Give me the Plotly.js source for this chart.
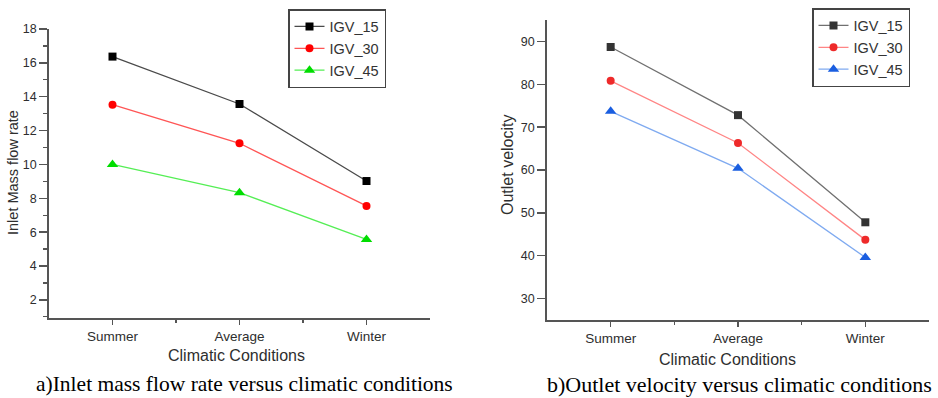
<!DOCTYPE html>
<html>
<head>
<meta charset="utf-8">
<script src="https://cdn.plot.ly/plotly-3.0.1.min.js"></script>
<style>html,body{margin:0;padding:0;background:#fff;}#chart{width:938px;height:398px;}</style>
</head>
<body>
<div id="chart"></div>
<script>
// ---- data ----
const categories = ["Summer", "Average", "Winter"];
const seriesNames = ["IGV_15", "IGV_30", "IGV_45"];
// a) Inlet mass flow rate
const massIGV15 = [16.37, 13.57, 9.02];
const massIGV30 = [13.53, 11.25, 7.55];
const massIGV45 = [10.0, 8.33, 5.57];
// b) Outlet velocity
const velIGV15 = [88.7, 72.8, 47.8];
const velIGV30 = [80.8, 66.3, 43.7];
const velIGV45 = [73.7, 60.4, 39.6];
const massTicks = [2, 4, 6, 8, 10, 12, 14, 16, 18];
const velTicks = [30, 40, 50, 60, 70, 80, 90];

const W = 938, H = 398;
const fx = px => px / W;
const fy = py => 1 - py / H;
const idx = categories.map((c, i) => i);

const sans = "Liberation Sans, Arial, sans-serif";
const serif = "Liberation Serif, Times New Roman, serif";
const tickCol = "#2e2e2e";
const axCol = "#555555";

function tr(name, y, xa, ya, leg, lineCol, mCol, sym, size) {
  return {
    type: "scatter", mode: "lines+markers", name: name,
    x: idx, y: y, xaxis: xa, yaxis: ya, legend: leg,
    line: {color: lineCol, width: 1.3},
    marker: {color: mCol, symbol: sym, size: size, line: {width: 0}},
    hoverinfo: "x+y"
  };
}

const data = [
  tr(seriesNames[0], massIGV15, "x", "y", "legend", "#4a4a4a", "#000000", "square", 8),
  tr(seriesNames[1], massIGV30, "x", "y", "legend", "#ff5555", "#ff0000", "circle", 8),
  tr(seriesNames[2], massIGV45, "x", "y", "legend", "#55ee55", "#00dd00", "triangle-up", 10),
  tr(seriesNames[0], velIGV15, "x2", "y2", "legend2", "#707070", "#333333", "square", 8),
  tr(seriesNames[1], velIGV30, "x2", "y2", "legend2", "#ff8585", "#ee2a2a", "circle", 8),
  tr(seriesNames[2], velIGV45, "x2", "y2", "legend2", "#7faaf0", "#1a5ee0", "triangle-up", 10)
];

function xAxis(d0, d1, anchor) {
  return {
    domain: [fx(d0), fx(d1)], anchor: anchor, range: [-0.5, 2.5],
    tickmode: "array", tickvals: idx, ticktext: categories,
    ticks: "outside", ticklen: 5, tickwidth: 1.5, tickcolor: axCol,
    minor: {tickmode: "array", tickvals: [0.5, 1.5], ticks: "outside", ticklen: 3, tickwidth: 1.2, tickcolor: axCol},
    showline: true, linecolor: axCol, linewidth: 1.8, showgrid: false, zeroline: false,
    tickfont: {family: sans, size: 13.5, color: tickCol}, fixedrange: true
  };
}
function yAxis(d0, d1, anchor, range, ticks, minor) {
  const a = {
    domain: [fy(d1), fy(d0)], anchor: anchor, range: range,
    tickmode: "array", tickvals: ticks,
    ticks: "outside", ticklen: 8, tickwidth: 1.5, tickcolor: axCol,
    showline: true, linecolor: axCol, linewidth: 1.8, showgrid: false, zeroline: false,
    tickfont: {family: sans, size: 12.5, color: tickCol}, fixedrange: true
  };
  if (minor) a.minor = {dtick: 1, tick0: 1, ticks: "outside", ticklen: 4, tickwidth: 1.2, tickcolor: axCol, showgrid: false};
  return a;
}
const legStyle = (x, y) => ({
  x: fx(x), y: fy(y), xanchor: "left", yanchor: "top",
  bgcolor: "#ffffff", bordercolor: "#444444", borderwidth: 1.5,
  font: {family: sans, size: 14.5, color: "#333333"}, tracegroupgap: 0, itemwidth: 30
});
const ann = (text, x, y, size, fam, col, angle) => ({
  text: text, xref: "paper", yref: "paper", x: fx(x), y: fy(y),
  xanchor: "center", yanchor: "middle", showarrow: false, textangle: angle || 0,
  font: {family: fam, size: size, color: col}
});

const layout = {
  width: W, height: H, margin: {l: 0, r: 0, t: 0, b: 0},
  paper_bgcolor: "#ffffff", plot_bgcolor: "#ffffff",
  showlegend: true,
  xaxis: xAxis(49, 430, "y"),
  yaxis: yAxis(29, 318, "x", [0.93, 18], massTicks, true),
  xaxis2: xAxis(547, 929, "y2"),
  yaxis2: yAxis(20, 320, "x2", [25, 95], velTicks, false),
  legend: legStyle(288, 9),
  legend2: legStyle(812, 8),
  annotations: [
    ann("Inlet Mass flow rate", 13, 173, 14.5, sans, tickCol, -90),
    ann("Climatic Conditions", 237, 355, 16, sans, tickCol),
    ann("Outlet velocity", 508, 165, 16, sans, tickCol, -90),
    ann("Climatic Conditions", 727, 359, 16, sans, tickCol),
    ann("a)Inlet mass flow rate versus climatic conditions", 245, 384, 21.5, serif, "#000000"),
    ann("b)Outlet velocity versus climatic conditions", 739, 384, 22, serif, "#000000")
  ]
};

Plotly.newPlot("chart", data, layout, {displayModeBar: false, staticPlot: true});
</script>
</body>
</html>
